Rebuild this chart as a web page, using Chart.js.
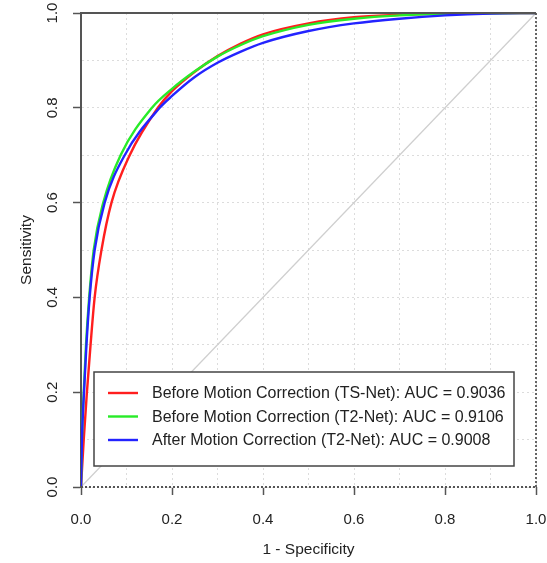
<!DOCTYPE html>
<html>
<head>
<meta charset="utf-8">
<script src="https://cdn.jsdelivr.net/npm/chart.js@4"></script>
<style>
  html, body { margin: 0; padding: 0; background: #fff; }
  #wrap { width: 547px; height: 563px; }
</style>
</head>
<body>
<div id="wrap"><canvas id="roc"></canvas></div>
<script>
// ROC data (x = 1 - specificity, y = sensitivity)
const tsNetFpr = [0, 0.006, 0.013, 0.021, 0.030, 0.045, 0.067, 0.107, 0.169, 0.20, 0.25, 0.30, 0.35, 0.40, 0.50, 0.60, 0.70, 0.80, 0.90, 1];
const tsNetTpr = [0, 0.10, 0.20, 0.30, 0.40, 0.50, 0.60, 0.70, 0.80, 0.835, 0.876, 0.909, 0.935, 0.955, 0.978, 0.991, 0.996, 0.999, 1, 1];

const t2NetFpr = [0, 0.002, 0.006, 0.011, 0.018, 0.028, 0.049, 0.087, 0.156, 0.20, 0.25, 0.30, 0.35, 0.40, 0.50, 0.60, 0.70, 0.80, 0.90, 1];
const t2NetTpr = [0, 0.10, 0.20, 0.30, 0.40, 0.50, 0.60, 0.70, 0.80, 0.84, 0.877, 0.908, 0.932, 0.951, 0.975, 0.988, 0.995, 0.998, 0.9995, 1];

const afterFpr = [0, 0.002, 0.0066, 0.012, 0.019, 0.030, 0.052, 0.096, 0.173, 0.20, 0.25, 0.30, 0.35, 0.40, 0.50, 0.60, 0.70, 0.80, 0.90, 1];
const afterTpr = [0, 0.10, 0.20, 0.30, 0.40, 0.50, 0.60, 0.70, 0.80, 0.825, 0.865, 0.895, 0.918, 0.937, 0.962, 0.978, 0.988, 0.995, 0.999, 1];

const chanceLine = [0, 1];

const seriesLabels = [
  "Before Motion Correction (TS-Net): AUC = 0.9036",
  "Before Motion Correction (T2-Net): AUC = 0.9106",
  "After Motion Correction (T2-Net): AUC = 0.9008"
];
const seriesColors = ["rgb(255,30,30)", "rgb(40,235,40)", "rgb(35,35,255)"];

const xTicks = [0, 0.2, 0.4, 0.6, 0.8, 1.0];
const yTicks = [0, 0.2, 0.4, 0.6, 0.8, 1.0];

const FONT = "'Liberation Sans', Arial, sans-serif";

function toPoints(xs, ys) {
  return xs.map((x, i) => ({ x: x, y: ys[i] }));
}

function makeCurve(i, xs, ys) {
  return {
    label: seriesLabels[i],
    data: toPoints(xs, ys),
    showLine: true,
    borderColor: seriesColors[i],
    backgroundColor: seriesColors[i],
    borderWidth: 2.4,
    pointRadius: 0,
    cubicInterpolationMode: "monotone",
    order: 3 - i
  };
}

const isMajor = (v) => Math.round(v * 10) % 2 === 0;

function tenths(scale) {
  scale.ticks = [];
  for (let i = 0; i <= 10; i++) scale.ticks.push({ value: i / 10 });
}

// box sides, rotated y labels (R style) and the legend inside the plot
const frameAndLegend = {
  id: "frameAndLegend",
  afterDraw(chart) {
    const ctx = chart.ctx;
    const a = chart.chartArea;
    const ys = chart.scales.y;
    ctx.save();
    ctx.strokeStyle = "#555";
    ctx.lineWidth = 2;
    ctx.beginPath();
    ctx.moveTo(a.left, a.top);
    ctx.lineTo(a.right, a.top);
    ctx.stroke();
    ctx.setLineDash([2, 2]);
    ctx.lineWidth = 1.8;
    ctx.beginPath();
    ctx.moveTo(a.right, a.top);
    ctx.lineTo(a.right, a.bottom);
    ctx.moveTo(a.left, a.bottom);
    ctx.lineTo(a.right, a.bottom);
    ctx.stroke();
    ctx.setLineDash([]);

    // y tick labels, turned like the original
    ctx.fillStyle = "#222";
    ctx.font = "15px " + FONT;
    ctx.textAlign = "center";
    ctx.textBaseline = "middle";
    yTicks.forEach((v) => {
      ctx.save();
      ctx.translate(a.left - 28, ys.getPixelForValue(v));
      ctx.rotate(-Math.PI / 2);
      ctx.fillText(v.toFixed(1), 0, 0);
      ctx.restore();
    });

    // legend box
    const bx = a.left + 13, by = a.bottom - 115, bw = 420, bh = 94;
    ctx.fillStyle = "#fff";
    ctx.fillRect(bx, by, bw, bh);
    ctx.strokeStyle = "#444";
    ctx.lineWidth = 1.5;
    ctx.strokeRect(bx, by, bw, bh);
    ctx.font = "16px " + FONT;
    ctx.textAlign = "left";
    ctx.textBaseline = "middle";
    seriesLabels.forEach((lab, i) => {
      const y = by + 21 + i * 23.5;
      ctx.strokeStyle = seriesColors[i];
      ctx.lineWidth = 2.4;
      ctx.beginPath();
      ctx.moveTo(bx + 14, y);
      ctx.lineTo(bx + 44, y);
      ctx.stroke();
      ctx.fillStyle = "#222";
      ctx.fillText(lab, bx + 58, y + 1);
    });
    ctx.restore();
  }
};

new Chart(document.getElementById("roc"), {
  type: "scatter",
  data: {
    datasets: [
      makeCurve(0, tsNetFpr, tsNetTpr),
      makeCurve(1, t2NetFpr, t2NetTpr),
      makeCurve(2, afterFpr, afterTpr),
      {
        label: "chance",
        data: toPoints(chanceLine, chanceLine),
        showLine: true,
        borderColor: "#cfcfcf",
        borderWidth: 1.3,
        pointRadius: 0,
        order: 4
      }
    ]
  },
  options: {
    responsive: true,
    maintainAspectRatio: false,
    animation: false,
    layout: { padding: { top: 13, right: 11, left: 17, bottom: 0 } },
    plugins: {
      legend: { display: false },
      tooltip: { enabled: false }
    },
    scales: {
      x: {
        type: "linear",
        min: 0,
        max: 1,
        afterFit(scale) {
          scale.height = 76;
          scale.paddingRight = 0;
          scale.paddingLeft = 0;
        },
        afterBuildTicks: tenths,
        ticks: {
          autoSkip: false,
          maxRotation: 0,
          padding: 16,
          color: "#222",
          font: { family: FONT, size: 15 },
          callback: (v) => (xTicks.some((t) => Math.abs(t - v) < 1e-6) ? v.toFixed(1) : "")
        },
        grid: {
          color: "#dcdcdc",
          lineWidth: 1,
          drawTicks: true,
          tickLength: 8,
          tickBorderDash: [],
          tickColor: (c) => (isMajor(c.tick.value) ? "#555" : "rgba(0,0,0,0)"),
          tickWidth: 1.5
        },
        border: { display: false, dash: [2, 3] },
        title: {
          display: true,
          text: "1 - Specificity",
          color: "#222",
          font: { family: FONT, size: 15.5 },
          padding: { top: 4 }
        }
      },
      y: {
        type: "linear",
        min: 0,
        max: 1,
        afterFit(scale) {
          scale.width = 64;
          scale.paddingTop = 0;
          scale.paddingBottom = 0;
        },
        afterBuildTicks: tenths,
        ticks: {
          autoSkip: false,
          padding: 0,
          callback: () => ""
        },
        grid: {
          color: "#dcdcdc",
          lineWidth: 1,
          drawTicks: true,
          tickLength: 8,
          tickBorderDash: [],
          tickColor: (c) => (isMajor(c.tick.value) ? "#555" : "rgba(0,0,0,0)"),
          tickWidth: 1.5
        },
        border: { display: true, color: "#555", width: 2, dash: [2, 3] },
        title: {
          display: true,
          text: "Sensitivity",
          color: "#222",
          font: { family: FONT, size: 15.5 },
          padding: 0
        }
      }
    }
  },
  plugins: [frameAndLegend]
});
</script>
</body>
</html>
